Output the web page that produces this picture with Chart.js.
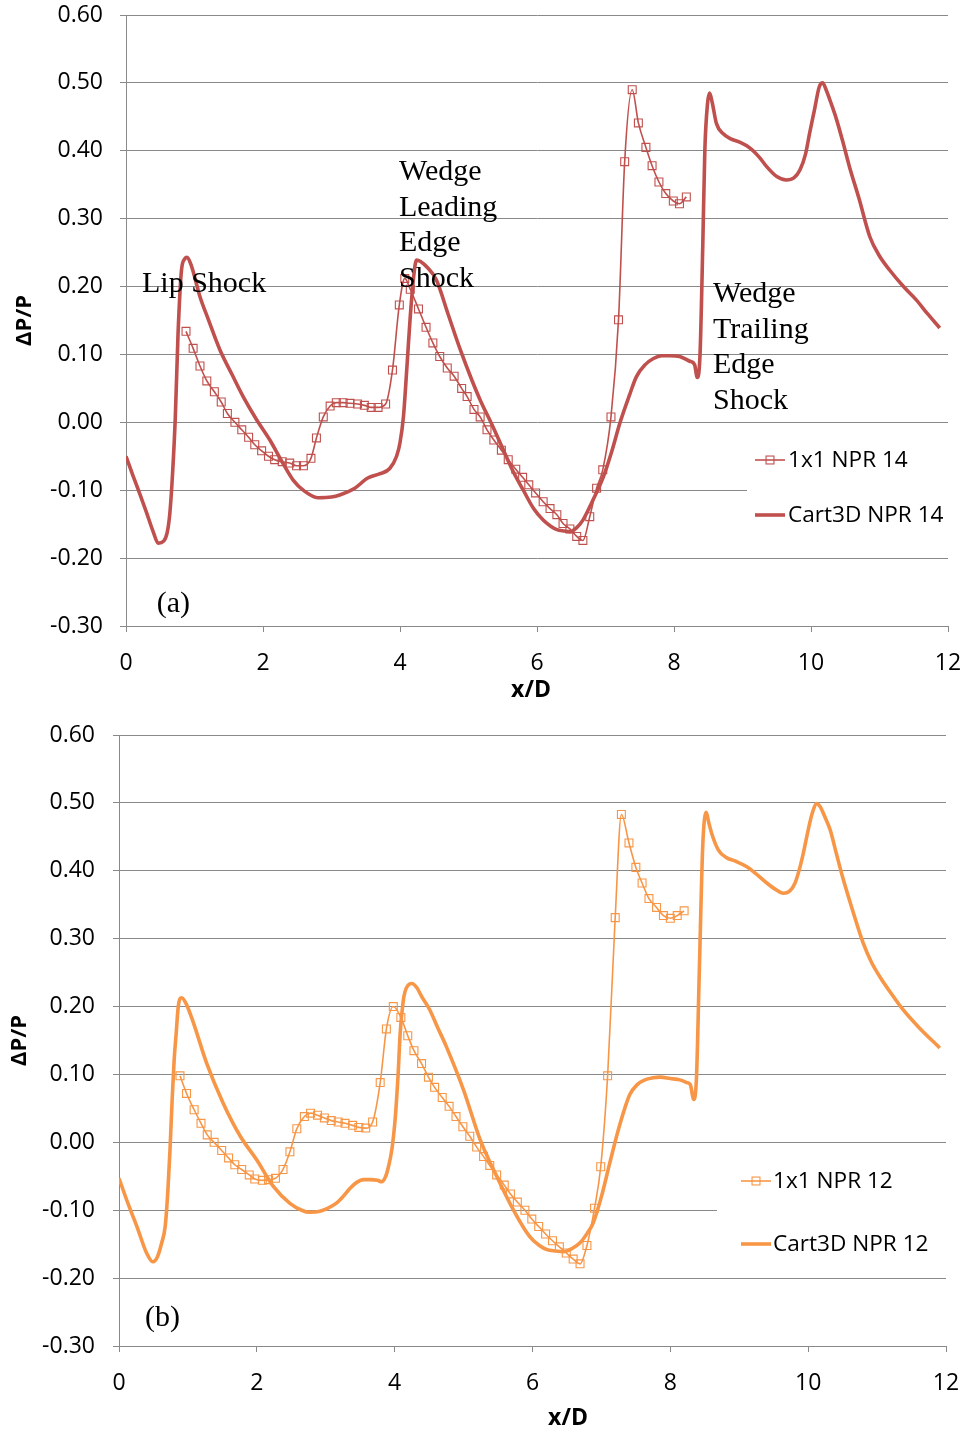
<!DOCTYPE html>
<html>
<head>
<meta charset="utf-8">
<script src="https://cdn.jsdelivr.net/npm/chart.js@4.4.1/dist/chart.umd.min.js"></script>
<style>
  html, body { margin: 0; padding: 0; background: #ffffff; }
  canvas { position: absolute; left: 0; }
  #chartA { top: 0; }
  #chartB { top: 712px; }
</style>
</head>
<body>
<canvas id="chartA" width="968" height="712"></canvas>
<canvas id="chartB" width="968" height="723"></canvas>
<script>
// ---- axis ticks ----
const xTicks = [0, 2, 4, 6, 8, 10, 12];
const yTicks = [-0.3, -0.2, -0.1, 0.0, 0.1, 0.2, 0.3, 0.4, 0.5, 0.6];

// ---- (a) NPR 14 ----
const x1x1Npr14 = [0.876, 0.98, 1.08, 1.18, 1.29, 1.39, 1.48, 1.59, 1.69, 1.79, 1.88, 1.98, 2.08, 2.17, 2.28, 2.39, 2.49, 2.59, 2.70, 2.78, 2.88, 2.98, 3.07, 3.17, 3.27, 3.38, 3.48, 3.58, 3.68, 3.79, 3.89, 3.99, 4.07, 4.15, 4.27, 4.38, 4.48, 4.58, 4.69, 4.79, 4.90, 4.98, 5.08, 5.17, 5.27, 5.37, 5.48, 5.58, 5.69, 5.79, 5.88, 5.98, 6.09, 6.19, 6.29, 6.38, 6.48, 6.58, 6.67, 6.77, 6.87, 6.96, 7.08, 7.19, 7.28, 7.39, 7.48, 7.59, 7.68, 7.78, 7.88, 7.99, 8.08, 8.18];
const y1x1Npr14 = [0.134, 0.109, 0.083, 0.061, 0.045, 0.030, 0.013, 0.000, -0.011, -0.022, -0.033, -0.042, -0.050, -0.055, -0.058, -0.060, -0.064, -0.064, -0.053, -0.023, 0.008, 0.024, 0.029, 0.029, 0.028, 0.027, 0.025, 0.022, 0.022, 0.027, 0.077, 0.173, 0.212, 0.196, 0.167, 0.140, 0.117, 0.097, 0.080, 0.068, 0.050, 0.038, 0.019, 0.008, -0.011, -0.026, -0.041, -0.055, -0.069, -0.081, -0.092, -0.104, -0.117, -0.127, -0.136, -0.149, -0.157, -0.168, -0.174, -0.139, -0.097, -0.070, 0.008, 0.151, 0.384, 0.490, 0.441, 0.405, 0.378, 0.354, 0.337, 0.326, 0.322, 0.332];

const xCart3dNpr14 = [0, 0.1, 0.2, 0.3, 0.4, 0.47, 0.55, 0.6, 0.64, 0.68, 0.72, 0.76, 0.81, 0.86, 0.89, 0.95, 1.08, 1.2, 1.37, 1.55, 1.71, 1.9, 2.1, 2.3, 2.44, 2.6, 2.8, 3.0, 3.12, 3.34, 3.53, 3.7, 3.85, 3.95, 4.0, 4.05, 4.1, 4.15, 4.2, 4.24, 4.3, 4.4, 4.53, 4.7, 4.88, 5.05, 5.17, 5.35, 5.51, 5.65, 5.8, 5.95, 6.09, 6.2, 6.29, 6.4, 6.48, 6.58, 6.67, 6.8, 6.97, 7.1, 7.21, 7.35, 7.45, 7.58, 7.7, 7.82, 7.94, 8.08, 8.23, 8.3, 8.34, 8.38, 8.42, 8.45, 8.49, 8.52, 8.56, 8.62, 8.72, 8.82, 8.95, 9.11, 9.25, 9.35, 9.5, 9.64, 9.75, 9.84, 9.92, 9.98, 10.05, 10.12, 10.17, 10.22, 10.3, 10.37, 10.46, 10.56, 10.7, 10.86, 11.0, 11.15, 11.35, 11.54, 11.7, 11.88];
const yCart3dNpr14 = [-0.05, -0.078, -0.105, -0.133, -0.162, -0.178, -0.175, -0.163, -0.134, -0.075, 0.008, 0.131, 0.224, 0.241, 0.243, 0.232, 0.185, 0.152, 0.107, 0.070, 0.038, 0.005, -0.026, -0.062, -0.085, -0.101, -0.111, -0.110, -0.107, -0.097, -0.082, -0.076, -0.068, -0.05, -0.03, 0.008, 0.08, 0.156, 0.215, 0.239, 0.237, 0.228, 0.21, 0.16, 0.107, 0.062, 0.033, -0.005, -0.041, -0.072, -0.1, -0.127, -0.144, -0.153, -0.158, -0.16, -0.161, -0.155, -0.144, -0.118, -0.08, -0.04, -0.001, 0.04, 0.067, 0.085, 0.094, 0.098, 0.098, 0.097, 0.09, 0.085, 0.066, 0.10, 0.26, 0.40, 0.47, 0.485, 0.47, 0.44, 0.425, 0.418, 0.413, 0.404, 0.39, 0.377, 0.362, 0.357, 0.36, 0.372, 0.395, 0.426, 0.46, 0.494, 0.50, 0.49, 0.468, 0.447, 0.415, 0.377, 0.33, 0.273, 0.245, 0.224, 0.2, 0.18, 0.16, 0.139];

// ---- (b) NPR 12 ----
const x1x1Npr12 = [0.885, 0.98, 1.09, 1.19, 1.28, 1.38, 1.49, 1.59, 1.68, 1.78, 1.89, 1.97, 2.08, 2.17, 2.27, 2.38, 2.48, 2.58, 2.69, 2.78, 2.88, 2.98, 3.08, 3.18, 3.28, 3.39, 3.48, 3.58, 3.68, 3.79, 3.88, 3.98, 4.09, 4.19, 4.28, 4.39, 4.49, 4.58, 4.69, 4.79, 4.89, 4.99, 5.09, 5.19, 5.29, 5.38, 5.48, 5.59, 5.68, 5.78, 5.89, 5.99, 6.09, 6.19, 6.29, 6.39, 6.49, 6.59, 6.69, 6.79, 6.90, 6.99, 7.09, 7.20, 7.29, 7.40, 7.50, 7.59, 7.69, 7.80, 7.90, 8.00, 8.10, 8.20];
const y1x1Npr12 = [0.098, 0.072, 0.048, 0.028, 0.011, 0.000, -0.012, -0.023, -0.033, -0.040, -0.048, -0.054, -0.056, -0.055, -0.053, -0.040, -0.014, 0.020, 0.038, 0.043, 0.040, 0.036, 0.032, 0.030, 0.028, 0.025, 0.022, 0.021, 0.030, 0.088, 0.167, 0.200, 0.184, 0.157, 0.135, 0.116, 0.096, 0.081, 0.066, 0.053, 0.038, 0.023, 0.009, -0.007, -0.021, -0.034, -0.048, -0.063, -0.076, -0.088, -0.100, -0.113, -0.124, -0.135, -0.145, -0.154, -0.163, -0.172, -0.179, -0.152, -0.097, -0.036, 0.098, 0.331, 0.483, 0.441, 0.405, 0.382, 0.359, 0.346, 0.334, 0.330, 0.334, 0.341];

const xCart3dNpr12 = [0, 0.13, 0.26, 0.4, 0.49, 0.56, 0.62, 0.67, 0.71, 0.74, 0.77, 0.8, 0.83, 0.86, 0.91, 0.97, 1.08, 1.27, 1.51, 1.76, 2.0, 2.24, 2.48, 2.65, 2.77, 2.9, 3.01, 3.15, 3.25, 3.35, 3.45, 3.55, 3.64, 3.75, 3.81, 3.87, 3.91, 3.96, 4.01, 4.05, 4.08, 4.12, 4.15, 4.2, 4.25, 4.32, 4.39, 4.51, 4.62, 4.75, 5.0, 5.24, 5.48, 5.72, 5.96, 6.1, 6.21, 6.33, 6.45, 6.58, 6.69, 6.8, 6.88, 7.0, 7.12, 7.25, 7.41, 7.52, 7.63, 7.75, 7.85, 8.0, 8.14, 8.24, 8.29, 8.34, 8.38, 8.42, 8.47, 8.52, 8.56, 8.6, 8.7, 8.82, 8.95, 9.11, 9.25, 9.4, 9.52, 9.64, 9.73, 9.81, 9.88, 9.93, 10.0, 10.06, 10.12, 10.17, 10.24, 10.32, 10.41, 10.51, 10.65, 10.8, 10.92, 11.04, 11.2, 11.38, 11.6, 11.91];
const yCart3dNpr12 = [-0.053, -0.09, -0.124, -0.163, -0.176, -0.168, -0.148, -0.124, -0.07, -0.011, 0.06, 0.121, 0.161, 0.2, 0.213, 0.205, 0.176, 0.117, 0.058, 0.009, -0.026, -0.065, -0.09, -0.1, -0.103, -0.102, -0.098, -0.09, -0.08, -0.068, -0.059, -0.055, -0.055, -0.056, -0.058, -0.05, -0.036, -0.01, 0.038, 0.1, 0.161, 0.205, 0.222, 0.232, 0.234, 0.228, 0.215, 0.195, 0.17, 0.141, 0.077, 0.004, -0.05, -0.099, -0.139, -0.152, -0.158, -0.16, -0.161, -0.156, -0.148, -0.133, -0.119, -0.08, -0.031, 0.02, 0.07, 0.085, 0.092, 0.095, 0.096, 0.094, 0.092, 0.088, 0.085, 0.063, 0.097, 0.25, 0.436, 0.486, 0.47, 0.455, 0.43, 0.419, 0.414, 0.406, 0.395, 0.382, 0.373, 0.367, 0.37, 0.382, 0.405, 0.426, 0.46, 0.485, 0.499, 0.495, 0.48, 0.46, 0.425, 0.387, 0.34, 0.293, 0.265, 0.244, 0.22, 0.195, 0.17, 0.139];

const RED = '#C0504D';
const ORANGE = '#F79646';
const GRID = '#898989';
const SANS = "'Open Sans', 'Liberation Sans', sans-serif";
const SERIF = "'Liberation Serif', 'DejaVu Serif', serif";

function pairs(xs, ys) {
  return xs.map((x, i) => ({ x: x, y: ys[i] }));
}

// Draws the boxed legend, the shock annotations and the x-axis caption.
const overlayPlugin = {
  id: 'overlay',
  afterDatasetsDraw(chart, args, opts) {
    const ctx = chart.ctx;
    const xs = chart.scales.x, ys = chart.scales.y;
    ctx.save();

    // legend
    const lg = opts.legend;
    ctx.fillStyle = '#ffffff';
    ctx.fillRect(lg.box[0], lg.box[1], lg.box[2] - lg.box[0], lg.box[3] - lg.box[1]);
    chart.data.datasets.forEach((ds, i) => {
      const y = lg.rows[i];
      ctx.strokeStyle = ds.borderColor;
      ctx.lineWidth = ds.borderWidth;
      ctx.beginPath();
      ctx.moveTo(lg.symbol[0], y);
      ctx.lineTo(lg.symbol[1], y);
      ctx.stroke();
      if (ds.pointRadius > 0) {
        const s = ds.pointRadius * Math.SQRT1_2;
        const cx = (lg.symbol[0] + lg.symbol[1]) / 2;
        ctx.lineWidth = ds.pointBorderWidth;
        ctx.strokeRect(cx - s, y - s, 2 * s, 2 * s);
      }
      ctx.fillStyle = '#000000';
      ctx.font = lg.font;
      ctx.textAlign = 'left';
      ctx.textBaseline = 'middle';
      ctx.fillText(ds.label, lg.textX, y + 1);
    });

    // annotations placed at data coordinates
    ctx.font = opts.noteFont;
    ctx.fillStyle = '#000000';
    ctx.textAlign = 'left';
    ctx.textBaseline = 'alphabetic';
    opts.notes.forEach(n => {
      const px = xs.getPixelForValue(n.x);
      const py = ys.getPixelForValue(n.y);
      n.lines.forEach((t, k) => ctx.fillText(t, px, py + k * opts.noteLineHeight));
    });

    // x-axis caption
    const xt = opts.xTitle;
    ctx.font = xt.font;
    ctx.textAlign = 'center';
    ctx.textBaseline = 'middle';
    ctx.fillText(xt.text, xt.cx, xt.cy);
    ctx.restore();
  }
};

function makeChart(canvasId, cfg) {
  return new Chart(document.getElementById(canvasId), {
    type: 'line',
    data: {
      datasets: [
        {
          label: cfg.labels[0],
          data: pairs(cfg.x1, cfg.y1),
          borderColor: cfg.color,
          borderWidth: 1.6,
          pointStyle: 'rect',
          pointRadius: 5.6,
          pointBorderWidth: 1.1,
          pointBorderColor: cfg.color,
          pointBackgroundColor: 'rgba(0,0,0,0)',
          cubicInterpolationMode: 'monotone',
          fill: false,
          order: 1
        },
        {
          label: cfg.labels[1],
          data: pairs(cfg.x2, cfg.y2),
          borderColor: cfg.color,
          borderWidth: 3.6,
          pointRadius: 0,
          cubicInterpolationMode: 'monotone',
          fill: false,
          order: 0
        }
      ]
    },
    options: {
      responsive: false,
      animation: false,
      events: [],
      layout: { padding: cfg.padding },
      scales: {
        x: {
          type: 'linear',
          min: 0, max: 12,
          afterBuildTicks: s => { s.ticks = xTicks.map(v => ({ value: v })); },
          afterFit: s => {
            s.height = cfg.xAxisHeight;
            s.paddingLeft = 0; s.paddingRight = 0;
          },
          grid: { drawOnChartArea: false, drawTicks: true, tickLength: 6, color: GRID, lineWidth: 1 },
          border: { display: true, color: GRID, width: 1 },
          ticks: { padding: 18, color: '#000', font: { family: SANS, size: 23 }, maxRotation: 0, callback: v => String(v) }
        },
        y: {
          type: 'linear',
          min: -0.3, max: 0.6,
          afterBuildTicks: s => { s.ticks = yTicks.map(v => ({ value: v })); },
          afterFit: s => {
            s.width = cfg.yAxisWidth;
            s.paddingTop = 0; s.paddingBottom = 0;
          },
          grid: { drawTicks: true, tickLength: 6, color: GRID, lineWidth: 1 },
          border: { display: true, color: GRID, width: 1 },
          ticks: { padding: cfg.yTickPad, color: '#000', font: { family: SANS, size: 23 }, callback: v => (Math.abs(v) < 1e-9 ? 0 : v).toFixed(2) },
          title: { display: true, text: 'ΔP/P', color: '#000', padding: 0, font: { family: SANS, size: 22, weight: 'bold' } }
        }
      },
      plugins: {
        legend: { display: false },
        tooltip: { enabled: false },
        overlay: {
          legend: cfg.legend,
          notes: cfg.notes,
          noteFont: '30px ' + SERIF,
          noteLineHeight: 35.5,
          xTitle: cfg.xTitle
        }
      }
    },
    plugins: [overlayPlugin]
  });
}

makeChart('chartA', {
  x1: x1x1Npr14, y1: y1x1Npr14, x2: xCart3dNpr14, y2: yCart3dNpr14,
  labels: ['1x1 NPR 14', 'Cart3D NPR 14'],
  color: RED,
  padding: { left: 12, right: 20, top: 15, bottom: 0 },
  yAxisWidth: 114,
  xAxisHeight: 86,
  yTickPad: 17,
  legend: { box: [747, 432, 948, 548], rows: [460, 515], symbol: [755, 785], textX: 788, font: '22.6px ' + SANS },
  notes: [
    { x: 0.234, y: 0.1925, lines: ['Lip Shock'] },
    { x: 3.985, y: 0.3568, lines: ['Wedge', 'Leading', 'Edge', 'Shock'] },
    { x: 8.57, y: 0.1769, lines: ['Wedge', 'Trailing', 'Edge', 'Shock'] },
    { x: 0.448, y: -0.2788, lines: ['(a)'] }
  ],
  xTitle: { text: 'x/D', cx: 531, cy: 690, font: 'bold 23px ' + SANS }
});

makeChart('chartB', {
  x1: x1x1Npr12, y1: y1x1Npr12, x2: xCart3dNpr12, y2: yCart3dNpr12,
  labels: ['1x1 NPR 12', 'Cart3D NPR 12'],
  color: ORANGE,
  padding: { left: 7, right: 22, top: 23, bottom: 0 },
  yAxisWidth: 112,
  xAxisHeight: 89,
  yTickPad: 18,
  legend: { box: [717, 446, 946, 556], rows: [469, 532], symbol: [741, 771], textX: 773, font: '22.6px ' + SANS },
  notes: [
    { x: 0.377, y: -0.2703, lines: ['(b)'] }
  ],
  xTitle: { text: 'x/D', cx: 568, cy: 706, font: 'bold 23px ' + SANS }
});
</script>
</body>
</html>
